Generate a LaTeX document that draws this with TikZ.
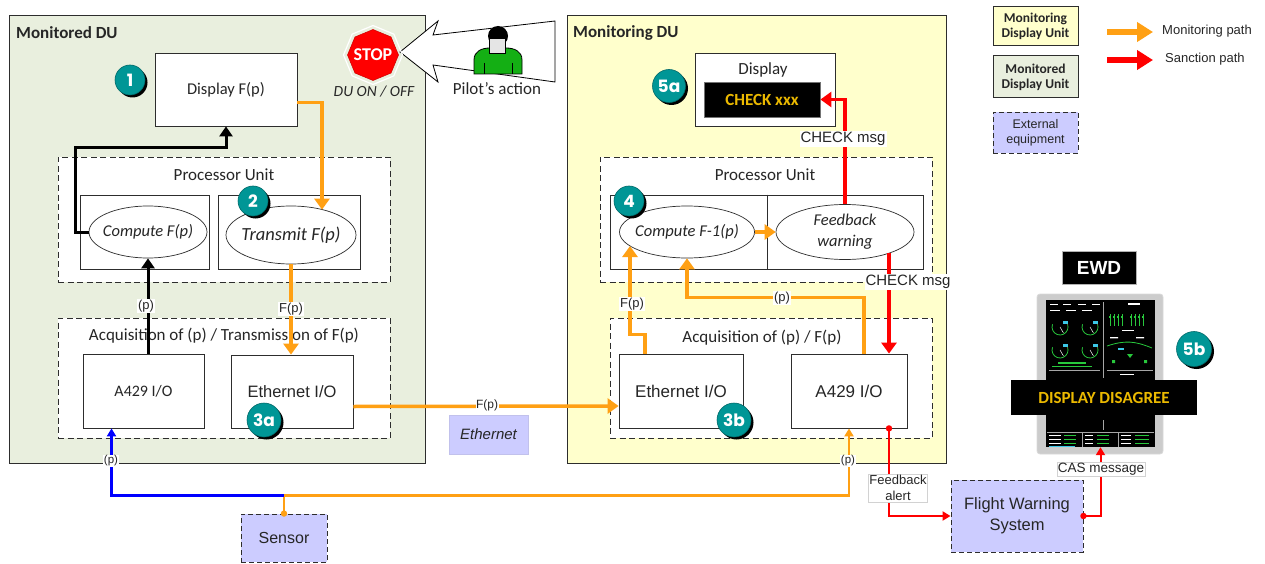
\documentclass[tikz,border=0pt]{standalone}
\usepackage{fontspec}
\setmainfont{Carlito}
\newfontfamily\arialf{Liberation Sans}
\newfontfamily\popf{Poppins}
\usetikzlibrary{arrows.meta,shapes.geometric,calc,shadows}

\definecolor{duGreen}{RGB}{233,239,222}
\definecolor{duYellow}{RGB}{255,255,204}
\definecolor{extLav}{RGB}{204,204,255}
\definecolor{pathOrange}{RGB}{255,160,20}
\definecolor{sanRed}{RGB}{255,0,0}
\definecolor{badgeTeal}{RGB}{0,150,150}
\definecolor{warnGold}{RGB}{235,185,0}
\definecolor{edge}{RGB}{45,45,45}
\definecolor{pilotGreen}{RGB}{20,175,20}
\definecolor{ewdGreen}{RGB}{40,200,60}
\definecolor{ewdCyan}{RGB}{60,200,230}

\newcommand\fsz[2]{\fontsize{#1}{#2}\selectfont}

\begin{document}
\begin{tikzpicture}[x=1pt,y=-1pt,
  every node/.style={text=black!85},
  area/.style={draw=edge, line width=1pt, inner sep=0pt},
  rbox/.style={draw=edge, line width=0.8pt, fill=white, inner sep=0pt, font=\fsz{16.5}{20}},
  dbox/.style={draw=edge, line width=0.9pt, dash pattern=on 6pt off 3.5pt, fill=white, inner sep=0pt},
  ext/.style={draw=edge, line width=0.9pt, dash pattern=on 5pt off 3pt, fill=extLav, inner sep=0pt, font=\arialf\fsz{16}{20}},
  func/.style={ellipse, draw=edge, line width=0.7pt, fill=white, inner sep=0pt},
  ftxt/.style={inner sep=0pt, font=\itshape\fsz{16.5}{21}},
  ttl/.style={font=\bfseries\fsz{17}{20}, anchor=west, inner sep=0pt},
  captxt/.style={font=\fsz{17}{20}, inner sep=0pt},
  lbl/.style={fill=white, inner sep=1pt, font=\arialf\fsz{13}{15}},
  slbl/.style={fill=white, inner sep=0.6pt, font=\arialf\fsz{11.5}{13}},
  badge/.style={circle, fill=badgeTeal, draw=badgeTeal!70!black, line width=0.6pt,
    minimum size=#1, inner sep=0pt, text=white, font=\popf\bfseries\fsz{17}{17},
    drop shadow={shadow xshift=2.5pt, shadow yshift=-2.5pt, fill=black, opacity=1}},
  blk/.style={draw=black, line width=3pt, -{Triangle[length=10pt,width=13pt]}},
  mon/.style={draw=pathOrange, line width=3.5pt, -{Triangle[length=11pt,width=15pt]}},
  san/.style={draw=sanRed, line width=3.5pt, -{Triangle[length=11pt,width=15pt]}},
  monthin/.style={draw=pathOrange, line width=2.2pt, -{Triangle[length=8pt,width=9pt]}},
  santhin/.style={draw=sanRed, line width=2pt, -{Triangle[length=8pt,width=9pt]}},
  pthin/.style={draw=blue, line width=2.2pt, -{Triangle[length=8pt,width=9pt]}},
  gauge/.style={draw=ewdGreen, line width=0.8pt}
]
\useasboundingbox (0,0) rectangle (1265,564);

% ---------- the two display units ----------
\node[area, fill=duGreen, minimum width=416, minimum height=447] (mdu) at (217,239.5) {};
\node[area, fill=duYellow, minimum width=379, minimum height=447] (mgdu) at (756.5,239.5) {};
\node[ttl] (mduT) at (16,33) {Monitored DU};
\node[ttl] (mgduT) at (573,33) {Monitoring DU};

% ---------- monitored DU ----------
\node[rbox, minimum width=142, minimum height=73] (disp1) at (226,89.5) {Display F(p)};
\node[dbox, minimum width=332, minimum height=125] (proc1) at (224,219.5) {};
\node[captxt] (proc1T) at (224,175) {Processor Unit};
\node[rbox, minimum width=129, minimum height=74] (cbox1) at (144.5,232) {};
\node[rbox, minimum width=142, minimum height=74] (tbox1) at (289,232) {};
\node[func, minimum width=118, minimum height=52] (comp1) at (148,232) {};
\node[ftxt] (comp1T) at (comp1) {Compute F(p)};
\node[func, minimum width=130, minimum height=58] (trans1) at (291,235) {};
\node[ftxt, font=\itshape\fsz{18.5}{22}] (trans1T) at (trans1) {Transmit F(p)};
\node[dbox, minimum width=332, minimum height=120] (acq1) at (224,378) {};
\node[captxt] (acq1T) at (224,336) {Acquisition of (p) / Transmission of F(p)};
\node[rbox, minimum width=121, minimum height=74, font=\fsz{16}{20}] (a429L) at (143.5,391) {A429 I/O};
\node[rbox, minimum width=122, minimum height=73, font=\arialf\fsz{16.5}{20}] (ethL) at (292,391.5) {Ethernet I/O};

% ---------- monitoring DU ----------
\node[rbox, minimum width=140, minimum height=73] (disp2) at (765,89.5) {};
\node[captxt] (disp2T) at (763,70) {Display};
\node[fill=black, draw=black!55, line width=0.8pt, minimum width=116, minimum height=35, inner sep=0pt,
      text=warnGold, font=\bfseries\fsz{17}{19}] (scr2) at (762,99.5) {CHECK xxx};
\node[dbox, minimum width=332, minimum height=125] (proc2) at (766,219.5) {};
\node[captxt] (proc2T) at (765,175) {Processor Unit};
\node[rbox, minimum width=313, minimum height=74] (pbox2) at (767,232) {};
\draw[draw=edge, line width=0.8pt] (pbox2.north) -- (pbox2.south);
\node[func, minimum width=135, minimum height=52] (comp2) at (687,232) {};
\node[ftxt] (comp2T) at (comp2) {Compute F-1(p)};
\node[func, minimum width=138, minimum height=55] (fb2) at (845,232) {};
\node[ftxt, align=center] (fb2T) at (fb2) {Feedback\\warning};
\node[dbox, minimum width=322, minimum height=120] (acq2) at (771,378) {};
\node[captxt] (acq2T) at (762,338) {Acquisition of (p) / F(p)};
\node[rbox, minimum width=124, minimum height=74, font=\arialf\fsz{17}{20}] (ethR) at (681,391) {Ethernet I/O};
\node[rbox, minimum width=116, minimum height=74, font=\arialf\fsz{17}{20}] (a429R) at (849,391) {A429 I/O};

% ---------- external equipment ----------
\node[fill=extLav, draw=extLav!85!gray, line width=0.6pt, minimum width=79, minimum height=39, inner sep=0pt,
      font=\arialf\itshape\fsz{15}{18}] (eth) at (488.5,434.5) {Ethernet};
\node[ext, minimum width=86, minimum height=48] (sensor) at (284,538) {Sensor};
\node[ext, minimum width=132, minimum height=72, align=center, font=\arialf\fsz{16.5}{21}] (fws) at (1017,516) {Flight Warning\\System};

% ---------- pilot's action ----------
\draw[fill=white, line width=0.8pt, line join=miter]
  (400,52) -- (438,21) -- (433,35) -- (555,21) -- (555,82) -- (433,65) -- (438,82) -- cycle;
\fill[black] (498,36) circle (10);
\draw[fill=pilotGreen, line width=0.8pt] (474,74) -- (474,60) .. controls (474,51) and (482,48) .. (490,48)
  -- (506,48) .. controls (514,48) and (522,51) .. (522,60) -- (522,74) -- cycle;
\draw[fill=gray!20, line width=0.7pt] (489,38) rectangle (505,53);
\draw[line width=0.8pt] (484,63) -- (484,74) (512,63) -- (512,74);
\node[captxt] (pilotT) at (497,89) {Pilot’s action};

\node[regular polygon, regular polygon sides=8, shape border rotate=22.5, minimum size=51, inner sep=0pt,
      fill=sanRed, draw=red!80!black, line width=0.5pt] (stop) at (373,55) {};
\node[regular polygon, regular polygon sides=8, shape border rotate=22.5, minimum size=46, inner sep=0pt,
      draw=white, line width=1.2pt, text=white, font=\bfseries\fsz{18}{18}] (stopT) at (stop) {STOP};
\node[font=\itshape\fsz{15.5}{18}, inner sep=0pt] (duonoff) at (374,92) {DU ON / OFF};

% ---------- EWD ----------
\node[fill=black, draw=gray!60, line width=0.8pt, minimum width=74, minimum height=33, inner sep=0pt,
      text=white, font=\arialf\bfseries\fsz{19}{22}] (ewdT) at (1099,267.5) {EWD};
\node[fill=gray!40, draw=gray!30, line width=0.8pt, rounded corners=3pt, minimum width=126, minimum height=160,
      inner sep=0pt] (bezel) at (1100,374) {};
\node[fill=black, minimum width=109, minimum height=147, inner sep=0pt] (screen) at (1100.5,373.5) {};
% engine gauges
\foreach \gx/\gy in {1060/327, 1090/327, 1060/350, 1090/350}{
  \draw[gauge] (\gx,\gy) ++(200:8) arc[start angle=200, end angle=-20, radius=8];
  \draw[draw=sanRed, line width=0.8pt] (\gx,\gy) ++(-20:8) arc[start angle=-20, end angle=-45, radius=8];
  \draw[white, line width=0.5pt] (\gx,\gy) -- ++(60:7);
  \fill[ewdCyan] (\gx+3,\gy-6) rectangle ++(5,3);
}
\foreach \tx in {1050,1063,1078,1092}{\fill[white] (\tx,304) rectangle ++(8,1.3);}
\foreach \tx in {1050,1066,1082}{\fill[white] (\tx,310) rectangle ++(10,1.3);}
\fill[ewdGreen] (1058,362) rectangle ++(28,1.5);
\fill[ewdGreen] (1052,366) rectangle ++(40,1.3);
\draw[gray!70, line width=0.8pt] (1103,302) -- (1103,378);
\draw[gray!70, line width=0.8pt] (1049,370) -- (1100,370) (1107,370) -- (1153,370);
\fill[white] (1128,303) rectangle ++(12,1.5);
\foreach \tx in {1110,1114,1118,1122,1131,1135,1139,1143}{
  \draw[ewdGreen, line width=0.9pt] (\tx,314) -- (\tx,326);
  \fill[ewdGreen] (\tx-1.2,316) rectangle ++(2.4,2);
}
\fill[white] (1122,330) rectangle ++(12,1.3);
\fill[white] (1110,337) rectangle ++(8,1.3) (1136,337) rectangle ++(8,1.3);
\draw[ewdGreen, line width=0.8pt] (1107,346) .. controls (1125,340) and (1135,341) .. (1152,348);
\fill[ewdCyan] (1118,348) rectangle ++(6,2);
\fill[ewdGreen] (1127,354) -- (1133,354) -- (1130,358) -- cycle;
\fill[ewdGreen] (1112,360) rectangle ++(3,3) (1144,360) rectangle ++(3,3);
\fill[white] (1120,374) rectangle ++(14,1.3);
\draw[gray!70, line width=0.8pt] (1103,420) -- (1103,430);
\draw[gray!70, line width=0.6pt] (1047,432) -- (1154,432) (1082,432) -- (1082,447) (1118,432) -- (1118,447);
\foreach \ty in {435,439,443}{
  \fill[white] (1049,\ty) rectangle ++(12,1.2);
  \fill[ewdGreen] (1064,\ty) rectangle ++(12,1.2);
  \fill[white] (1085,\ty) rectangle ++(8,1.2);
  \fill[ewdGreen] (1097,\ty) rectangle ++(12,1.2);
  \fill[white] (1121,\ty) rectangle ++(10,1.2);
  \fill[ewdGreen] (1135,\ty) rectangle ++(14,1.2);
}
\fill[ewdCyan] (1049,446) rectangle ++(26,1);
\node[fill=black, minimum width=186, minimum height=35, inner sep=0pt,
      text=warnGold, font=\bfseries\fsz{17}{19}] (banner) at (1104,397.5) {DISPLAY DISAGREE};

% ---------- legend ----------
\node[area, fill=duYellow, minimum width=85, minimum height=39, align=center,
      font=\bfseries\fsz{13.5}{15}] (lgMon) at (1035.5,26.5) {Monitoring\\Display Unit};
\node[area, fill=duGreen, minimum width=85, minimum height=42, align=center,
      font=\bfseries\fsz{13.5}{15}] (lgMtd) at (1035.5,77) {Monitored\\Display Unit};
\node[ext, minimum width=85, minimum height=41, align=center,
      font=\arialf\fsz{12.5}{15}] (lgExt) at (1035.5,132.5) {External\\equipment};
\coordinate (lgMonA) at (1107,32);
\coordinate (lgMonB) at (1153,32);
\coordinate (lgSanA) at (1107,60);
\coordinate (lgSanB) at (1153,60);
\draw[mon, line width=6pt, -{Triangle[length=16pt,width=19pt]}] (lgMonA) -- (lgMonB);
\draw[san, line width=6pt, -{Triangle[length=16pt,width=19pt]}] (lgSanA) -- (lgSanB);
\node[anchor=west, inner sep=0pt, font=\arialf\fsz{13}{15}] (lgMonT) at (1162,31) {Monitoring path};
\node[anchor=west, inner sep=0pt, font=\arialf\fsz{13}{15}] (lgSanT) at (1165,59) {Sanction path};

% ---------- connectors: monitored DU ----------
\coordinate (bkTurn) at (75,148);
\draw[blk] (comp1.west) -| (bkTurn) -| (disp1.south);
\draw[blk] (comp1.south |- a429L.north) -- (comp1.south);
\node[lbl] (pL1) at (146,306) {(p)};
\draw[mon] ($(disp1.east)+(0,13)$) -| ($(trans1.north)+(31,4)$);
\draw[mon] (trans1.south) -- (trans1.south |- ethL.north);
\node[lbl] (fpL1) at (291,309) {F(p)};
\draw[mon] ($(ethL.east)+(0,15)$) -- ($(ethR.west)+(0,15)$);
\node[lbl, inner sep=0.5pt, font=\arialf\fsz{12}{14}] (fpEth) at (487,405) {F(p)};

% ---------- connectors: monitoring DU ----------
\draw[mon] (comp2.east) -- (fb2.west);
\draw[san] (fb2.north) |- (scr2.east);
\node[lbl, font=\arialf\fsz{15}{17}] (chk1) at (843,139) {CHECK msg};
\coordinate (fbOut) at ($(fb2.center)+(44,21)$);
\draw[san] (fbOut) -- (fbOut |- a429R.north);
\node[lbl, font=\arialf\fsz{15}{17}] (chk2) at (908,282) {CHECK msg};
\draw[mon] ($(ethR.north)+(-36,0)$) -- ++(0,-19) -| ($(comp2.center)+(-57,14)$);
\node[lbl] (fpR) at (632,304) {F(p)};
\draw[mon] ($(a429R.north)+(15,0)$) -- ++(0,-56) -| (comp2.south);
\node[lbl] (pR) at (782,298) {(p)};

% ---------- connectors: sensor and warning ----------
\coordinate (snsSplit) at ($(sensor.north)+(0,-18)$);
\draw[monthin] (sensor.north) -- (snsSplit) -| (a429R.south);
\draw[pthin] (snsSplit) -| ($(a429L.south)+(-32,0)$);
\fill[pathOrange] (sensor.north) circle (3.2);
\node[slbl] (pS1) at (111,461) {(p)};
\node[slbl] (pS2) at (848,461) {(p)};
\coordinate (alertOut) at ($(a429R.south)+(40,0)$);
\draw[santhin] (alertOut) |- (fws.west);
\fill[sanRed] (alertOut) circle (3.2);
\node[lbl, draw=gray!35, line width=0.5pt, align=center, font=\arialf\fsz{13}{16}] (fbAlert) at (898,488) {Feedback\\alert};
\draw[santhin] (fws.east) -| (screen.south);
\fill[sanRed] (fws.east) circle (3.2);
\node[lbl, draw=gray!35, line width=0.5pt, font=\arialf\fsz{13.5}{16}] (casT) at (1101,469) {CAS message};

% ---------- step badges ----------
\node[badge=30] (b1) at (130,80) {1};
\node[badge=30] (b2) at (253,201) {2};
\node[badge=34] (b3a) at (264,420) {3a};
\node[badge=34] (b3b) at (734,420) {3b};
\node[badge=30] (b4) at (629,201) {4};
\node[badge=33] (b5a) at (669,86) {5a};
\node[badge=35] (b5b) at (1194,349) {5b};
\end{tikzpicture}
\end{document}
